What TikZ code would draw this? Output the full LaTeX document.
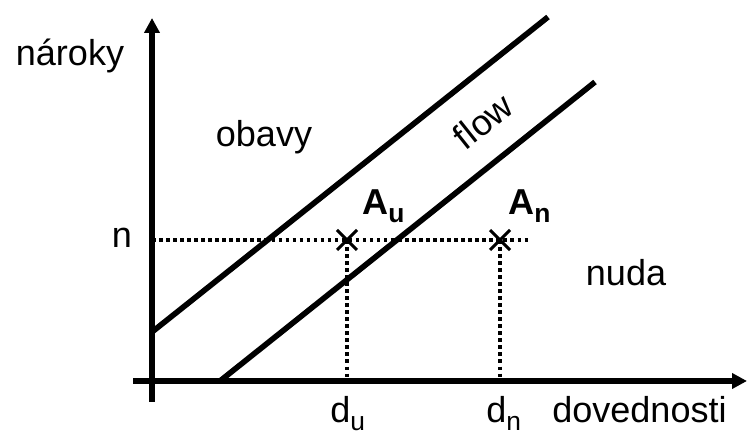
\documentclass[tikz,border=0pt]{standalone}
\usepackage{fontspec}
\setmainfont{Liberation Sans}
\usetikzlibrary{arrows.meta,calc}
\newcommand{\lowidx}[1]{\raisebox{-0.22em}{\fontsize{15}{17}\selectfont #1}}
\tikzset{
  axis/.style={line width=3.2pt, -{Triangle[length=0.3cm, width=0.3cm]}},
  bound/.style={line width=3.2pt, line cap=butt},
  guide/.style={line width=1.9pt, dash pattern=on 2pt off 2pt},
  cross/.style={line width=1.7pt},
  lbl/.style={font=\fontsize{20.5}{24}\selectfont, inner sep=0pt},
  pt/.style={lbl, font=\fontsize{20.5}{24}\selectfont\bfseries},
}

\begin{document}
\begin{tikzpicture}
  \useasboundingbox (0,0) rectangle (14.96,8.70);
  % axes
  \coordinate (ybot) at (3.04,0.66);
  \coordinate (ytop) at (3.04,8.34);
  \coordinate (xleft) at (2.66,1.08);
  \coordinate (xright) at (14.94,1.08);
  \draw[axis] (ybot) -- (ytop);
  \draw[axis] (xleft) -- (xright);
  % flow channel
  \coordinate (up1) at (3.04,2.06);
  \coordinate (up2) at (10.96,8.36);
  \coordinate (lo1) at (4.40,1.08);
  \coordinate (lo2) at (11.90,7.06);
  \draw[bound] (up1) -- (up2);
  \draw[bound] (lo1) -- (lo2);
  % points
  \coordinate (nstart) at (3.04,3.90);
  \coordinate (nend) at (10.60,3.90);
  \coordinate (Au) at (6.94,3.90);
  \coordinate (An) at (10.00,3.90);
  \coordinate (du) at (6.94,1.08);
  \coordinate (dn) at (10.00,1.08);
  \draw[guide] (nstart) -- (nend);
  \draw[guide] (Au) -- (du);
  \draw[guide] (An) -- (dn);
  \foreach \p in {Au,An} {
    \draw[cross] ($(\p)+(-0.2,-0.2)$) -- ($(\p)+(0.2,0.2)$);
    \draw[cross] ($(\p)+(-0.2,0.2)$) -- ($(\p)+(0.2,-0.2)$);
  }
  % labels
  \node[lbl, anchor=base] (naroky) at (1.40,7.38) {nároky};
  \node[lbl, anchor=base] (nlab) at (2.44,3.74) {n};
  \node[lbl, anchor=base] (obavy) at (5.28,5.76) {obavy};
  \node[lbl, anchor=base] (nuda) at (12.52,2.98) {nuda};
  \node[lbl, rotate=38.5] (flow) at (9.66,6.28) {flow};
  \node[pt, anchor=base west] (AuLab) at (7.24,4.40) {A\lowidx{u}};
  \node[pt, anchor=base west] (AnLab) at (10.16,4.40) {A\lowidx{n}};
  \node[lbl, anchor=base west] (duLab) at (6.60,0.24) {d\lowidx{u}};
  \node[lbl, anchor=base west] (dnLab) at (9.72,0.24) {d\lowidx{n}};
  \node[lbl, anchor=base west] (dov) at (11.04,0.24) {dovednosti};
\end{tikzpicture}
\end{document}
